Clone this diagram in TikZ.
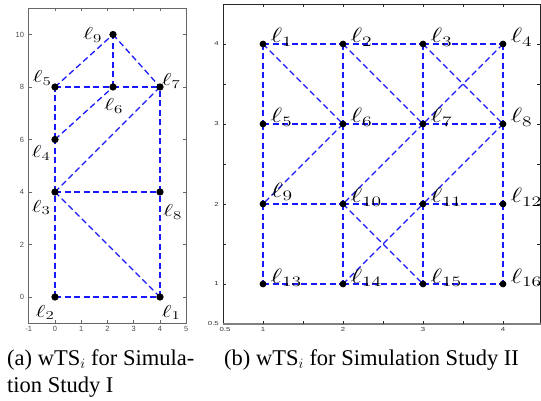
\documentclass[tikz,border=0pt]{standalone}
\usepackage[no-math]{fontspec}
\newfontfamily\capfont{Liberation Serif}
\newfontfamily\tickfont{Liberation Sans}
\definecolor{edgeblue}{RGB}{25,25,255}
\newcommand\lblA[1]{\scalebox{1.4}[1]{$\ell_{#1}$}}
\newcommand\lblB[1]{\scalebox{1.35}[1]{$\ell_{#1}$}}
\newcommand\tkB[1]{\scalebox{1.35}[1]{#1}}
\tikzset{
  edgeA/.style={color=edgeblue, line width=1.3pt, dash pattern=on 6pt off 3.5pt},
  edgeB/.style={color=edgeblue, line width=1.2pt, dash pattern=on 6pt off 3.5pt},
  dotA/.style={circle, fill=black, inner sep=0pt, minimum size=7.3pt},
  dotB/.style={circle, fill=black, inner sep=0pt, minimum size=6.8pt},
  labA/.style={anchor=base west, inner sep=0pt, font=\fontsize{18.5}{18.5}\selectfont},
  labB/.style={anchor=base west, inner sep=0pt, font=\fontsize{20}{20}\selectfont},
  axisA/.style={draw=black!60, line width=0.9pt},
  axisB/.style={draw=black!85, line width=0.8pt},
  axisBot/.style={draw=black!50, line width=1.8pt},
  tickA/.style={inner sep=0pt, text=black!70, font=\tickfont\fontsize{7.5}{7.5}\selectfont},
  tickB/.style={inner sep=0pt, text=black!80, font=\tickfont\fontsize{5.8}{5.8}\selectfont},
  capstyle/.style={anchor=base west, inner sep=0pt, font=\capfont\fontsize{22.5}{26}\selectfont}
}
\begin{document}
\begin{tikzpicture}[x=1pt,y=1pt]
\useasboundingbox (0,0) rectangle (541,-401);

% ---------------- left plot ----------------
\begin{scope}[shift={(55,-297)}, x=26.25pt, y=26.25pt]
  \draw[axisA] (-1,-1) rectangle (5,11);
  \foreach \x in {-1,...,5} {
    \draw[axisA] (\x,-1) -- ++(0,3pt);
    \draw[axisA] (\x,11) -- ++(0,-3pt);
    \node[tickA, anchor=north] (xa\x) at (\x,-1) [yshift=-3pt] {\x};
  }
  \foreach \y in {0,2,...,10} {
    \draw[axisA] (-1,\y) -- ++(3pt,0);
    \draw[axisA] (5,\y) -- ++(-3pt,0);
    \node[tickA, anchor=east] (ya\y) at (-1,\y) [xshift=-4.5pt] {\y};
  }
  \coordinate (a1) at (4,0);
  \coordinate (a2) at (0,0);
  \coordinate (a3) at (0,4);
  \coordinate (a4) at (0,6);
  \coordinate (a5) at (0,8);
  \coordinate (a6) at (2.2095,8);
  \coordinate (a7) at (4,8);
  \coordinate (a8) at (4,4);
  \coordinate (a9) at (2.2095,10);
  \draw[edgeA] (a2) -- (a1);
  \draw[edgeA] (a2) -- (a3);
  \draw[edgeA] (a1) -- (a8);
  \draw[edgeA] (a1) -- (a3);
  \draw[edgeA] (a3) -- (a8);
  \draw[edgeA] (a3) -- (a4);
  \draw[edgeA] (a3) -- (a7);
  \draw[edgeA] (a4) -- (a5);
  \draw[edgeA] (a4) -- (a6);
  \draw[edgeA] (a5) -- (a6);
  \draw[edgeA] (a6) -- (a7);
  \draw[edgeA] (a8) -- (a7);
  \draw[edgeA] (a5) -- (a9);
  \draw[edgeA] (a6) -- (a9);
  \draw[edgeA] (a9) -- (a7);
  \foreach \i in {1,...,9} {
    \node[dotA] (da\i) at (a\i) {};
  }
  \node[labA, xshift=1.5pt,  yshift=-20pt]  (la1) at (a1) {\lblA{1}};
  \node[labA, xshift=-19.5pt,yshift=-20pt]  (la2) at (a2) {\lblA{2}};
  \node[labA, xshift=-23.5pt,yshift=-20pt]  (la3) at (a3) {\lblA{3}};
  \node[labA, xshift=-23.5pt,yshift=-18pt]  (la4) at (a4) {\lblA{4}};
  \node[labA, xshift=-22.5pt,yshift=4pt]    (la5) at (a5) {\lblA{5}};
  \node[labA, xshift=-9pt,   yshift=-23.5pt](la6) at (a6) {\lblA{6}};
  \node[labA, xshift=1.5pt,  yshift=1.5pt]  (la7) at (a7) {\lblA{7}};
  \node[labA, xshift=3pt,    yshift=-24.5pt](la8) at (a8) {\lblA{8}};
  \node[labA, xshift=-30pt,  yshift=-5.3pt] (la9) at (a9) {\lblA{9}};
\end{scope}

% ---------------- right plot ----------------
\begin{scope}[shift={(183,-364)}, x=80pt, y=80pt]
  \draw[axisB] (0.5,0.5) -- (0.5,4.5) -- (4.4625,4.5) -- (4.4625,0.5);
  \draw[axisBot] (0.5,0.5) -- (4.5,0.5);
  \foreach \x in {1,1.5,...,4} {
    \draw[axisB] (\x,0.5) -- ++(0,3pt);
    \draw[axisB] (\x,4.5) -- ++(0,-3pt);
  }
  \foreach \y in {1,1.5,...,4} {
    \draw[axisB] (0.5,\y) -- ++(3pt,0);
    \draw[axisB] (4.4625,\y) -- ++(-3pt,0);
  }
  \foreach \v/\n in {1/1,2/2,3/3,4/4} {
    \node[tickB, anchor=north] (xb\n) at (\v,0.5) [yshift=-3pt] {\tkB{\v}};
    \node[tickB, anchor=east] (yb\n) at (0.5,\v) [xshift=-4pt] {\tkB{\v}};
  }
  \node[tickB, anchor=north] (xb0) at (0.5,0.5) [yshift=-3pt, xshift=2pt] {\tkB{0.5}};
  \node[tickB, anchor=east] (yb0) at (0.5,0.5) [xshift=-4pt] {\tkB{0.5}};
  % node positions
  \foreach \i/\x/\y in {1/1/4,2/2/4,3/3/4,4/4/4,5/1/3,6/2/3,7/3/3,8/4/3,9/1/2,10/2/2,11/3/2,12/4/2,13/1/1,14/2/1,15/3/1,16/4/1} {
    \coordinate (b\i) at (\x,\y);
  }
  % horizontal
  \foreach \a/\b in {1/2,2/3,3/4,5/6,6/7,7/8,9/10,10/11,11/12,13/14,14/15,15/16} {
    \draw[edgeB] (b\a) -- (b\b);
  }
  % vertical
  \foreach \a/\b in {1/5,5/9,9/13,2/6,6/10,10/14,3/7,7/11,11/15,4/8,8/12,12/16} {
    \draw[edgeB] (b\a) -- (b\b);
  }
  % diagonal
  \foreach \a/\b in {1/6,2/7,3/8,4/7,6/9,7/10,8/11,10/15,14/11} {
    \draw[edgeB] (b\a) -- (b\b);
  }
  \foreach \i in {1,...,16} {
    \node[dotB] (db\i) at (b\i) {};
  }
  \foreach \i in {1,2,3,4,5,6,7,8,10,11,12,13,14,15,16} {
    \node[labB, xshift=7.5pt, yshift=1pt] (lb\i) at (b\i) {\lblB{\i}};
  }
  \node[labB, xshift=8pt, yshift=7pt] (lb9) at (b9) {\lblB{9}};
\end{scope}

% ---------------- captions ----------------
\node[capstyle] (capa1) at (7,-365) {(a) wTS$_i$ for Simula-};
\node[capstyle] (capa2) at (7,-392) {tion Study I};
\node[capstyle] (capb) at (224,-365) {(b) wTS$_i$ for Simulation Study II};
\end{tikzpicture}
\end{document}
